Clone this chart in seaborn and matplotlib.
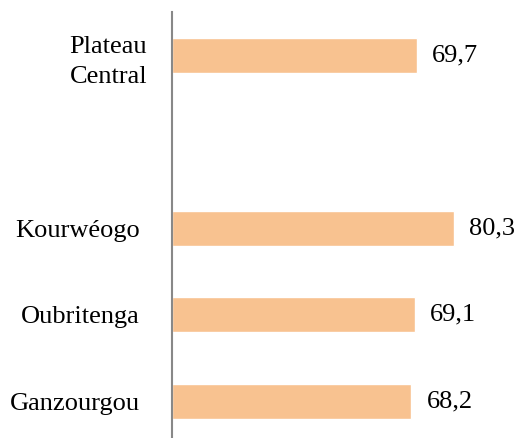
import matplotlib
matplotlib.use("Agg")
import matplotlib.pyplot as plt
import matplotlib.transforms as mtransforms
import seaborn as sns
import pandas as pd

categories = ["Plateau\nCentral", "Kourwéogo", "Oubritenga", "Ganzourgou"]
values = [69.7, 80.3, 69.1, 68.2]
order = ["Plateau\nCentral", " ", "Kourwéogo", "Oubritenga", "Ganzourgou"]

sns.set_style("white")
plt.rcParams["font.family"] = ["Liberation Serif", "DejaVu Serif"]

df = pd.DataFrame({"cat": categories, "val": values})

fig = plt.figure(figsize=(5.16, 4.38), dpi=100)
ax = fig.add_axes([172 / 516, 0.0, 344 / 516, 426 / 438])
sns.barplot(data=df, y="cat", x="val", order=order, orient="h",
            color="#F8C290", saturation=1, width=0.4, ax=ax)

for cont in ax.containers:
    labels = [f"{v:.1f}".replace(".", ",") for v in cont.datavalues]
    ax.bar_label(cont, labels=labels, padding=11, fontsize=19, color="black")

ax.set_xlim(0, 98)
ax.set_ylim(-0.5 + 426 / 86.5, -0.5)
ax.set_xlabel("")
ax.set_ylabel("")
ax.set_xticks([])
ax.tick_params(axis="y", length=0, pad=23, labelsize=19, labelcolor="black")
for s in ["top", "right", "bottom"]:
    ax.spines[s].set_visible(False)
ax.spines["left"].set_color("#888888")
ax.spines["left"].set_linewidth(1.5)
for t in ax.get_yticklabels():
    t.set_multialignment("center")
    if "Plateau" in t.get_text():
        t.set_linespacing(1.5)
        t.set_transform(t.get_transform() +
                        mtransforms.ScaledTranslation(7 / 100, 0, fig.dpi_scale_trans))

fig.savefig("out.png", dpi=100)
